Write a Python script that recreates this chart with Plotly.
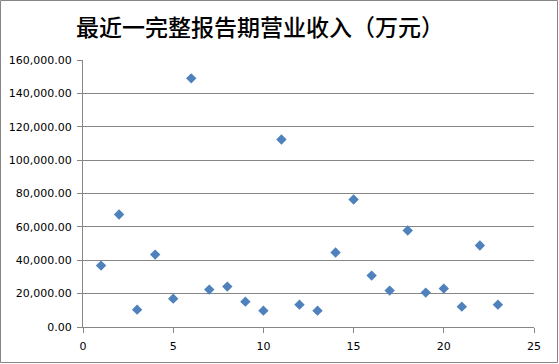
import plotly.graph_objects as go

idx = list(range(1, 24))
revenue = [36800, 67400, 10400, 43400, 17000, 149000, 22400, 24200, 15200, 9800,
           112400, 13400, 9800, 44600, 76400, 30800, 21800, 57800, 20600, 23000,
           12200, 48800, 13400]
title_text = "最近一完整报告期营业收入（万元）"
y_ticks = [0, 20000, 40000, 60000, 80000, 100000, 120000, 140000, 160000]
x_ticks = [0, 5, 10, 15, 20, 25]

W, H = 559, 364
L, R, T, B = 83, 25, 60, 37
pw, ph = W - L - R, H - T - B

fig = go.Figure(go.Scatter(
    x=idx, y=revenue, mode="markers",
    marker=dict(symbol="diamond", size=8, color="#4F81BD", line=dict(width=0)),
))

axis_col = "#868686"
fig.update_layout(
    width=W, height=H,
    margin=dict(l=L, r=R, t=T, b=B, autoexpand=False),
    paper_bgcolor="white", plot_bgcolor="white",
    showlegend=False,
    title=dict(text=title_text, x=76 / W, xanchor="left", xref="container",
               y=1 - 28 / H, yanchor="middle", yref="container", pad=dict(l=0, r=0, t=0, b=0),
               font=dict(family="Noto Sans CJK SC", size=23, color="#000000", weight=500)),
    font=dict(family="DejaVu Sans", size=11, color="#000000"),
    xaxis=dict(range=[0, 25], tickvals=x_ticks, ticks="outside", ticklen=5,
               tickcolor=axis_col, showline=True, linecolor=axis_col, linewidth=1,
               showgrid=False, zeroline=False, fixedrange=True, automargin=False,
               ticklabelstandoff=4),
    yaxis=dict(range=[0, 160000], tickvals=y_ticks, tickformat=",.2f",
               ticks="outside", ticklen=5, tickcolor=axis_col,
               showline=True, linecolor=axis_col, linewidth=1,
               showgrid=True, gridcolor=axis_col, gridwidth=1,
               zeroline=False, fixedrange=True, automargin=False,
               ticklabelstandoff=3),
    shapes=[dict(type="rect", xref="paper", yref="paper",
                 x0=-(L - 0.5) / pw, x1=1 + (R - 1.5) / pw,
                 y0=-(B - 1.5) / ph, y1=1 + (T - 0.5) / ph,
                 line=dict(color=axis_col, width=1), fillcolor="rgba(0,0,0,0)",
                 layer="below")],
)

fig.write_html("out.html", config={"displayModeBar": False},
               post_script="document.body.style.margin='0';")
